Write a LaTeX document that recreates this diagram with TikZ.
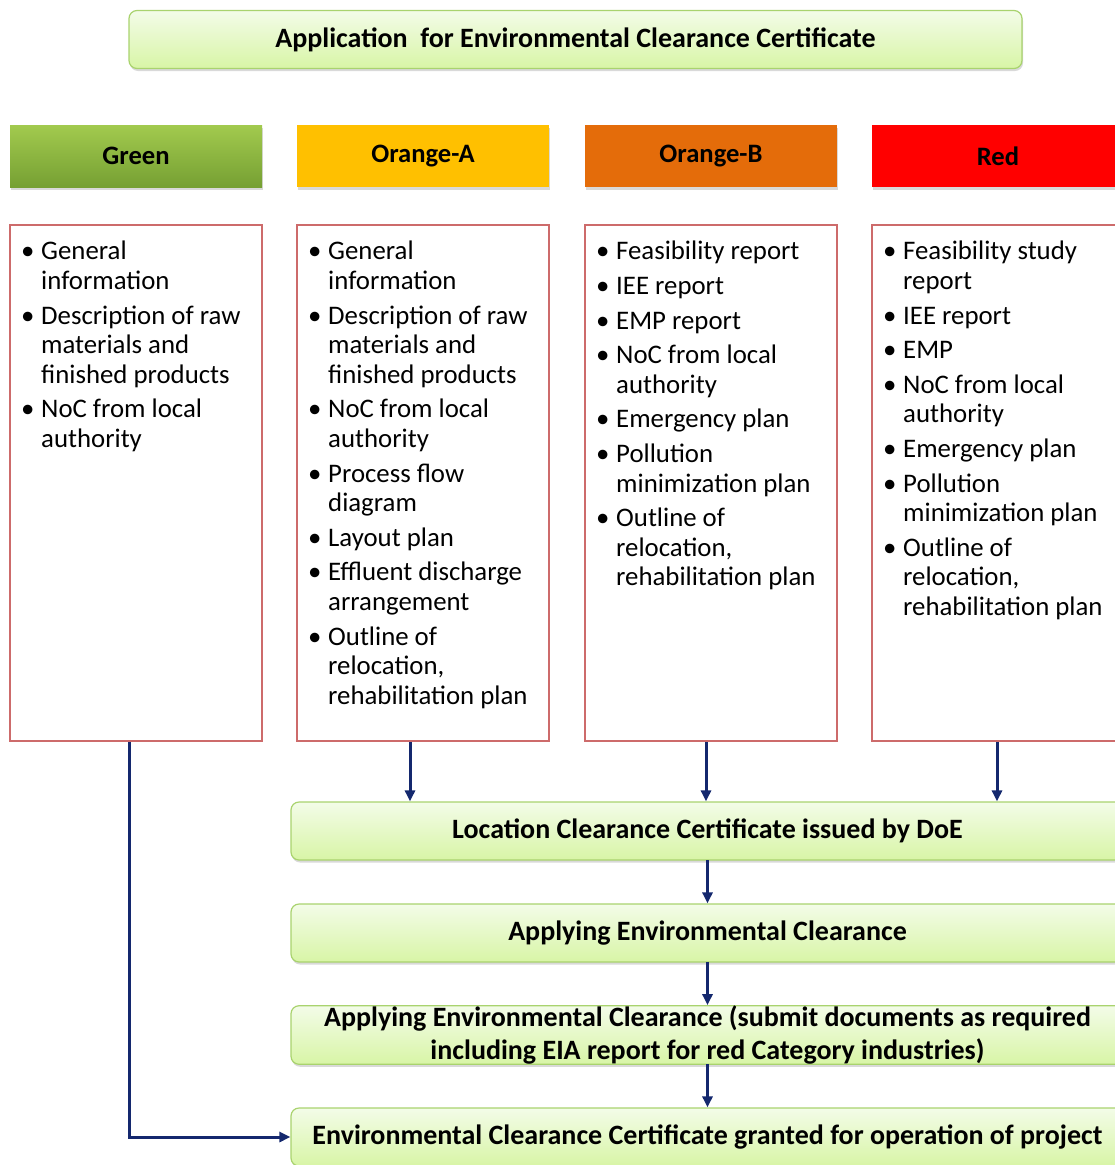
\documentclass[tikz,border=0pt]{standalone}
\usepackage{fontspec}
\setmainfont{Carlito}
\usetikzlibrary{arrows.meta,shadows}
\definecolor{navyline}{HTML}{14286E}
\definecolor{listred}{HTML}{CD6B6B}
\definecolor{paletop}{HTML}{F3FCE8}
\definecolor{palebot}{HTML}{D8F5A6}
\definecolor{paleedge}{HTML}{A9D36E}
\definecolor{greentop}{HTML}{A2CA4E}
\definecolor{greenbot}{HTML}{76A033}
\definecolor{orangeA}{HTML}{FFC000}
\definecolor{orangeB}{HTML}{E46C0A}
\definecolor{redcat}{HTML}{FF0000}

\newcommand{\bul}{\makebox[20pt][l]{\textbullet}}
\newcommand{\blist}[1]{\fontsize{26.8}{29.6}\selectfont
  \begin{tabular}{@{}l@{}l@{}}#1\end{tabular}}

\tikzset{
  stagebox/.style={draw=paleedge,line width=1.2pt,rounded corners=8pt,
    top color=paletop,bottom color=palebot,minimum height=58pt,
    drop shadow={opacity=0.3,shadow xshift=1pt,shadow yshift=-2.5pt},
    font=\fontsize{28}{33}\selectfont\bfseries,align=center},
  catbox/.style={minimum width=252pt,minimum height=62pt,inner sep=0pt,
    drop shadow={opacity=0.3,shadow xshift=1pt,shadow yshift=-2.5pt},
    font=\fontsize{26.6}{30}\selectfont\bfseries},
  listbox/.style={draw=listred,line width=2.2pt,fill=white,
    minimum width=252pt,minimum height=516pt,inner sep=0pt},
  listtext/.style={anchor=north west,inner sep=0pt},
  flow/.style={navyline,line width=3pt,-{Triangle[length=11pt,width=10pt]}}
}

\begin{document}
\begin{tikzpicture}[x=1pt,y=-1pt]
  \useasboundingbox (0,0) rectangle (1115,1165);
  \clip (0,0) rectangle (1115,1165);

  \node[stagebox,minimum width=893pt] (app) at (575.5,39.5)
    {Application\ \ for Environmental Clearance Certificate};

  % category headers
  \node[catbox,top color=greentop,bottom color=greenbot] (hg) at (136,156) {Green};
  \foreach \nm/\cx/\col/\lbl in {ha/423/orangeA/Orange-A,hb/711/orangeB/Orange-B,hr/998/redcat/Red}{
    \node[catbox,fill=\col] (\nm) at (\cx,156) {\lbl};
  }

  % requirement lists
  \node[listbox] (g) at (136,483) {};
  \node[listbox] (oa) at (423,483) {};
  \node[listbox] (ob) at (711,483) {};
  \node[listbox] (r) at (998,483) {};

  \node[listtext] (gtxt) at (21,239) {\blist{
    \bul & General\\ & information\\[5pt]
    \bul & Description of raw\\ & materials and\\ & finished products\\[5pt]
    \bul & NoC from local\\ & authority}};
  \node[listtext] (oatxt) at (308,239) {\blist{
    \bul & General\\ & information\\[5pt]
    \bul & Description of raw\\ & materials and\\ & finished products\\[5pt]
    \bul & NoC from local\\ & authority\\[5pt]
    \bul & Process flow\\ & diagram\\[5pt]
    \bul & Layout plan\\[5pt]
    \bul & Effluent discharge\\ & arrangement\\[5pt]
    \bul & Outline of\\ & relocation,\\ & rehabilitation plan}};
  \node[listtext] (obtxt) at (596,239) {\blist{
    \bul & Feasibility report\\[5pt]
    \bul & IEE report\\[5pt]
    \bul & EMP report\\[5pt]
    \bul & NoC from local\\ & authority\\[5pt]
    \bul & Emergency plan\\[5pt]
    \bul & Pollution\\ & minimization plan\\[5pt]
    \bul & Outline of\\ & relocation,\\ & rehabilitation plan}};
  \node[listtext] (rtxt) at (883,239) {\blist{
    \bul & Feasibility study\\ & report\\[5pt]
    \bul & IEE report\\[5pt]
    \bul & EMP\\[5pt]
    \bul & NoC from local\\ & authority\\[5pt]
    \bul & Emergency plan\\[5pt]
    \bul & Pollution\\ & minimization plan\\[5pt]
    \bul & Outline of\\ & relocation,\\ & rehabilitation plan}};

  % clearance steps
  \node[stagebox,minimum width=833pt] (loc) at (707.5,831)
    {Location Clearance Certificate issued by DoE};
  \node[stagebox,minimum width=833pt] (apply) at (707.5,933)
    {Applying Environmental Clearance};
  \node[stagebox,minimum width=833pt,inner sep=0pt] (submit) at (707.5,1035)
    {Applying Environmental Clearance (submit documents as required\\
     including EIA report for red Category industries)};
  \node[stagebox,minimum width=833pt] (grant) at (707.5,1137)
    {Environmental Clearance Certificate granted for operation of project};

  \coordinate (xa) at (410,0);
  \coordinate (xb) at (706,0);
  \coordinate (xr) at (997,0);
  \coordinate (xg) at (129,0);
  \draw[flow] (xa |- oa.south) -- (xa |- loc.north);
  \draw[flow] (xb |- ob.south) -- (xb |- loc.north);
  \draw[flow] (xr |- r.south) -- (xr |- loc.north);
  \draw[flow] (loc) ++(0,29) -- (apply.north);
  \draw[flow] (apply) ++(0,29) -- (submit.north);
  \draw[flow] (submit) ++(0,29) -- (grant.north);
  \draw[flow] (xg |- g.south) |- (grant.west);
\end{tikzpicture}
\end{document}
